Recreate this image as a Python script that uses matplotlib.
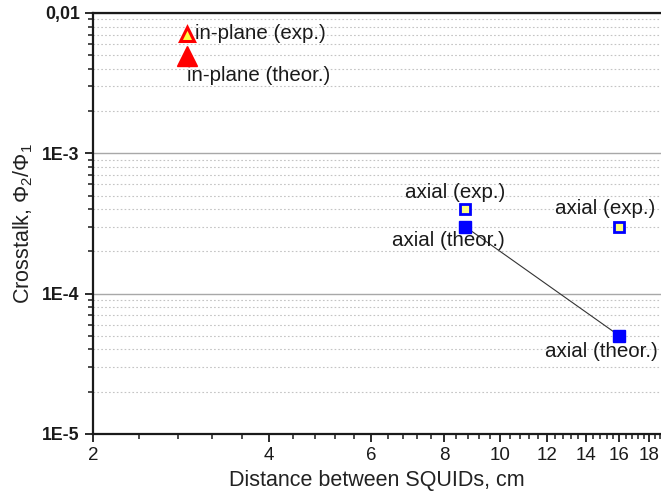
import numpy as np
import matplotlib
matplotlib.use('Agg')
import matplotlib.pyplot as plt

plt.rcParams['font.family'] = ['Liberation Sans', 'DejaVu Sans']
plt.rcParams['mathtext.fontset'] = 'custom'
plt.rcParams['mathtext.rm'] = 'Liberation Sans'
plt.rcParams['mathtext.it'] = 'Liberation Sans:italic'

# data
inplane_exp_x = [2.9]
inplane_exp_y = [0.0071]
inplane_theor_x = [2.9]
inplane_theor_y = [0.0049]
axial_exp_x = [8.7, 16.0]
axial_exp_y = [4.0e-4, 3.0e-4]
axial_theor_x = [8.7, 16.0]
axial_theor_y = [3.0e-4, 5.0e-5]

x_ticks = [2, 4, 6, 8, 10, 12, 14, 16, 18]
y_ticks = [1e-5, 1e-4, 1e-3, 1e-2]
y_ticklabels = ['1E-5', '1E-4', '1E-3', '0,01']

fig = plt.figure(figsize=(6.61, 4.99), dpi=100)
ax = fig.add_axes([0.1407, 0.1303, 0.8593, 0.8437])
ax.set_xscale('log')
ax.set_yscale('log')
ax.set_xlim(2, 18.85)
ax.set_ylim(1e-5, 1e-2)

# connecting line between the theoretical axial points
ax.plot(axial_theor_x, axial_theor_y, color='#333333', lw=0.8, zorder=3)

ax.plot(inplane_theor_x, inplane_theor_y, '^', ms=15, color='red',
        mec='red', zorder=4)
ax.plot(inplane_exp_x, inplane_exp_y, '^', ms=9.5, mfc='#ffff40',
        mec='red', mew=2.2, zorder=5)
ax.plot(axial_theor_x, axial_theor_y, 's', ms=9, color='#0000ff',
        mec='#0000ff', zorder=4, ls='none')
ax.plot(axial_exp_x, axial_exp_y, 's', ms=7.5, mfc='#ffff80',
        mec='#0000ff', mew=2, zorder=5, ls='none')

fs = 14.8
tc = '#1a1a1a'
ax.annotate('in-plane (exp.)', (inplane_exp_x[0], inplane_exp_y[0]),
            xytext=(6, 0), textcoords='offset points', ha='left',
            va='center', fontsize=fs, color=tc)
ax.annotate('in-plane (theor.)', (inplane_theor_x[0], inplane_theor_y[0]),
            xytext=(0, -14), textcoords='offset points', ha='left',
            va='center', fontsize=fs, color=tc)
ax.annotate('axial (exp.)', (axial_exp_x[0], axial_exp_y[0]),
            xytext=(-7, 12), textcoords='offset points', ha='center',
            va='center', fontsize=fs, color=tc)
ax.annotate('axial (theor.)', (axial_theor_x[0], axial_theor_y[0]),
            xytext=(-12, -10), textcoords='offset points', ha='center',
            va='center', fontsize=fs, color=tc)
ax.annotate('axial (exp.)', (axial_exp_x[1], axial_exp_y[1]),
            xytext=(-10, 13), textcoords='offset points', ha='center',
            va='center', fontsize=fs, color=tc)
ax.annotate('axial (theor.)', (axial_theor_x[1], axial_theor_y[1]),
            xytext=(-13, -11), textcoords='offset points', ha='center',
            va='center', fontsize=fs, color=tc)

# axis ticks
ax.set_xticks(x_ticks)
ax.set_xticklabels([str(t) for t in x_ticks])
minor_x = [v for v in np.arange(2.0, 18.85, 0.4)
           if min(abs(v - t) for t in x_ticks) > 1e-6]
ax.set_xticks(minor_x, minor=True)
ax.set_xticklabels([], minor=True)
ax.set_yticks(y_ticks)
ax.set_yticklabels(y_ticklabels, fontweight='bold')
minor_y = [m * 10.0 ** e for e in range(-5, -2) for m in range(2, 10)]
ax.set_yticks(minor_y, minor=True)
ax.set_yticklabels([], minor=True)

ax.tick_params(axis='both', which='major', direction='out', length=6,
               width=1.3, labelsize=13.5, colors='#1a1a1a')
ax.tick_params(axis='both', which='minor', direction='out', length=3.5,
               width=1.1, colors='#1a1a1a')
ax.tick_params(axis='y', which='major', labelsize=12.8)

# grid
ax.yaxis.grid(True, which='major', color='#a8a8a8', lw=1.0, ls='-')
ax.yaxis.grid(True, which='minor', color='#c4c4c4', lw=0.8, ls=(0, (1.5, 2)))
ax.xaxis.grid(False)
ax.set_axisbelow(True)

for side in ['left', 'bottom', 'top']:
    ax.spines[side].set_linewidth(1.6)
    ax.spines[side].set_color('#1a1a1a')
ax.spines['right'].set_visible(False)

ax.set_xlabel('Distance between SQUIDs, cm', fontsize=15.5, color='#222222',
              labelpad=4)
ax.set_ylabel('Crosstalk, Φ$_2$/Φ$_1$', fontsize=15.5, color='#222222',
              labelpad=5)

fig.savefig('out.png', dpi=100)
